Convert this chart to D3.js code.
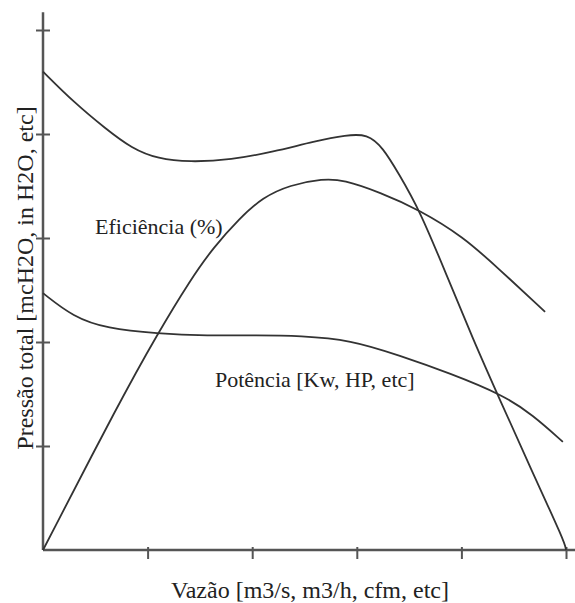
<!DOCTYPE html>
<html>
<head>
<meta charset="utf-8">
<script src="https://cdn.jsdelivr.net/npm/d3@7"></script>
<style>
  body { margin: 0; background: #fff; }
  text { font-family: "Liberation Serif", "DejaVu Serif", serif; fill: #222; }
</style>
</head>
<body>
<div id="chart"></div>
<script>
// curve values (x = vazão, y = pressão units)
var pressao_x = [0, 0.3, 0.6, 0.85, 1.1, 1.4, 1.8, 2.2, 2.6, 2.9, 3.1, 3.25, 3.4, 3.6, 3.86, 4.11, 4.37, 4.66, 4.99, 5.0];
var pressao_y = [4.6, 4.3, 4.05, 3.86, 3.76, 3.73, 3.75, 3.83, 3.93, 3.99, 4.0, 3.87, 3.62, 3.27, 2.64, 2.03, 1.44, 0.79, 0.07, 0];

var efic_x = [0, 0.74, 1.09, 1.41, 1.63, 1.88, 2.1, 2.36, 2.68, 2.87, 3.22, 3.6, 4.02, 4.34, 4.8];
var efic_y = [0, 1.44, 2.07, 2.6, 2.91, 3.19, 3.39, 3.51, 3.57, 3.56, 3.44, 3.27, 3.01, 2.72, 2.29];

var pot_x = [0, 0.29, 0.61, 1.09, 1.57, 2.05, 2.46, 2.94, 3.41, 3.89, 4.4, 4.68, 4.97];
var pot_y = [2.47, 2.24, 2.13, 2.08, 2.06, 2.065, 2.06, 2.02, 1.87, 1.70, 1.49, 1.30, 1.04];

var tick_vals = [1, 2, 3, 4, 5];

var width = 575, height = 603;

var svg = d3.select('#chart').append('svg')
	.attr("width", width)
	.attr("height", height);

var xscale = d3.scaleLinear().domain([0, 5]).range([43, 566]);
var yscale = d3.scaleLinear().domain([0, 5]).range([550, 30]);

// axes
var xaxis = d3.axisBottom(xscale).tickValues(tick_vals).tickSize(9).tickFormat("");
var yaxis = d3.axisLeft(yscale).tickValues(tick_vals).tickSize(7).tickFormat("");

var gx = svg.append("g")
	.attr("transform", "translate(0," + yscale(0) + ")")
	.call(xaxis);
gx.select(".domain").remove();
gx.selectAll(".tick line").attr("y1", -3).attr("stroke", "#555").attr("stroke-width", 2);

var gy = svg.append("g")
	.attr("transform", "translate(" + xscale(0) + ",0)")
	.call(yaxis);
gy.select(".domain").remove();
gy.selectAll(".tick line").attr("x2", 7).attr("x1", -7).attr("stroke", "#555").attr("stroke-width", 2);

svg.append("line")
	.attr("x1", xscale(0)).attr("x2", xscale(5.17))
	.attr("y1", yscale(0)).attr("y2", yscale(0))
	.attr("stroke", "#555").attr("stroke-width", 2.5);
svg.append("line")
	.attr("x1", xscale(0)).attr("x2", xscale(0))
	.attr("y1", yscale(0)).attr("y2", yscale(5.17))
	.attr("stroke", "#555").attr("stroke-width", 2.5);

// curves
var line = d3.line()
	.x(function(d){ return xscale(d[0]); })
	.y(function(d){ return yscale(d[1]); })
	.curve(d3.curveBasis);

function pairs(xs, ys){
	return xs.map(function(x, i){ return [x, ys[i]]; });
}

[pairs(pressao_x, pressao_y), pairs(efic_x, efic_y), pairs(pot_x, pot_y)].forEach(function(s){
	svg.append("path")
		.datum(s)
		.attr("d", line)
		.attr("fill", "none")
		.attr("stroke", "#333")
		.attr("stroke-width", 1.8);
});

// labels
svg.append("text")
	.attr("x", 95).attr("y", 234)
	.style("font-size", "22px")
	.text("Eficiência (%)");

svg.append("text")
	.attr("x", 215).attr("y", 387)
	.style("font-size", "22px")
	.text("Potência [Kw, HP, etc]");

svg.append("text")
	.attr("x", 310).attr("y", 598)
	.attr("text-anchor", "middle")
	.style("font-size", "24px")
	.text("Vazão [m3/s, m3/h, cfm, etc]");

svg.append("text")
	.attr("transform", "translate(33,278) rotate(-90)")
	.attr("text-anchor", "middle")
	.style("font-size", "24px")
	.text("Pressão total [mcH2O, in H2O, etc]");
</script>
</body>
</html>
